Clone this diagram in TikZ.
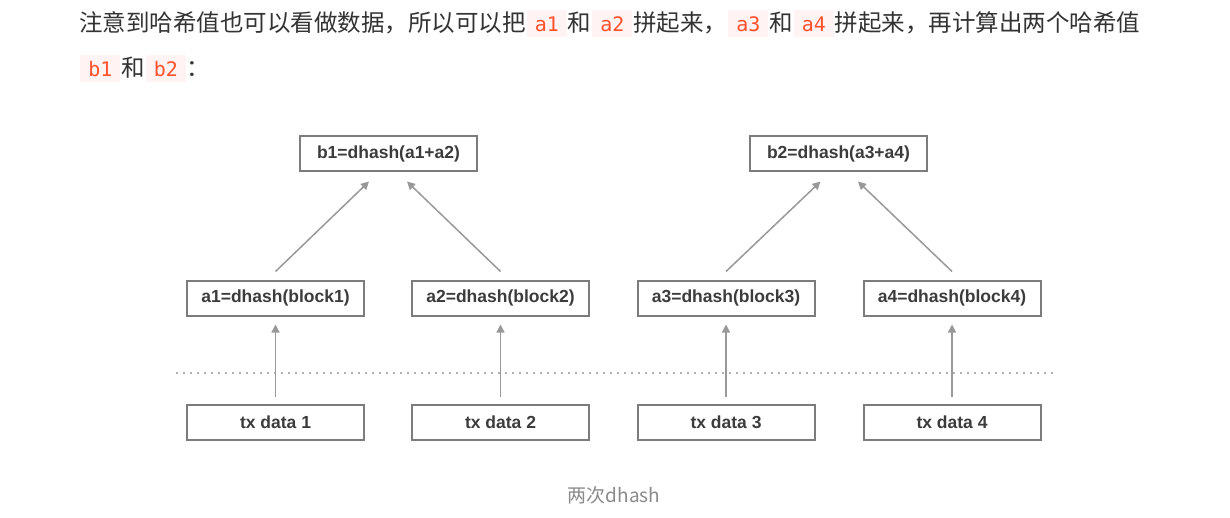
\documentclass[tikz,border=0pt]{standalone}
\usepackage{fontspec}
\usepackage{xcolor}
\usetikzlibrary{arrows.meta}
\newfontfamily\cjkfont{Noto Sans CJK SC}
\newfontfamily\monofont{DejaVu Sans Mono}
\newfontfamily\diagfont{Liberation Sans}
\definecolor{bodytext}{HTML}{333333}
\definecolor{codered}{HTML}{FF502C}
\definecolor{codebg}{HTML}{FFF3F3}
\definecolor{boxgray}{HTML}{7C7C7C}
\definecolor{arrowgray}{HTML}{999999}
\definecolor{dotgray}{HTML}{B0B0B0}
\definecolor{diagtext}{HTML}{3C3C3C}
\definecolor{capgray}{HTML}{8A8A8A}
\newcommand{\code}[1]{\hspace{0.5pt}{\setlength{\fboxsep}{0pt}\colorbox{codebg}{\makebox[20pt]{\rule[-2.5pt]{0pt}{13.5pt}\fontsize{10pt}{12pt}\monofont\color{codered}#1}}}\hspace{0.5pt}}
\tikzset{
  hashbox/.style  = {draw=boxgray,line width=1pt,minimum width=88.5pt,minimum height=17.5pt,
                     inner sep=0pt,font=\fontsize{8.75pt}{10pt}\diagfont\bfseries,text=diagtext},
  uparr/.style    = {-{Triangle[length=4pt,width=4pt]},arrowgray,line width=0.75pt},
  sepline/.style  = {dotgray,line width=1pt,dash pattern=on 1pt off 2.5pt},
  bodyline/.style = {anchor=base west,inner sep=0pt,text=bodytext,font=\fontsize{11.75pt}{14pt}\cjkfont}
}

\begin{document}
\begin{tikzpicture}[x=0.5pt,y=-0.5pt]
  \useasboundingbox[fill=white] (0,0) rectangle (1230,518);
  % text above the picture
  \node[bodyline] (line1) at (79,32) {注意到哈希值也可以看做数据，所以可以把\code{a1}和\code{a2}拼起来，\code{a3}和\code{a4}拼起来，再计算出两个哈希值};
  \node[bodyline] (line2) at (79,77) {\code{b1}和\code{b2}：};
  % hashes
  \node[hashbox] (b1) at (388.5,154) {b1=dhash(a1+a2)};
  \node[hashbox] (b2) at (838.5,154) {b2=dhash(a3+a4)};
  \node[hashbox] (a1) at (275.5,298) {a1=dhash(block1)};
  \node[hashbox] (a2) at (500.5,298) {a2=dhash(block2)};
  \node[hashbox] (a3) at (726,298)   {a3=dhash(block3)};
  \node[hashbox] (a4) at (952,298)   {a4=dhash(block4)};
  % data
  \node[hashbox] (tx1) at (275.5,422) {tx data 1};
  \node[hashbox] (tx2) at (500.5,422) {tx data 2};
  \node[hashbox] (tx3) at (726,422)   {tx data 3};
  \node[hashbox] (tx4) at (952,422)   {tx data 4};
  \coordinate (sepL) at (176,373);
  \coordinate (sepR) at (1056,373);
  \draw[sepline] (sepL) -- (sepR);
  \draw[uparr] ([yshift=3.5pt]tx1.north) -- ([yshift=-4pt]a1.south);
  \draw[uparr] ([yshift=3.5pt]tx2.north) -- ([yshift=-4pt]a2.south);
  \draw[uparr] ([yshift=3.5pt]tx3.north) -- ([yshift=-4pt]a3.south);
  \draw[uparr] ([yshift=3.5pt]tx4.north) -- ([yshift=-4pt]a4.south);
  \draw[uparr] ([yshift=4pt]a1.north) -- ([xshift=-9.75pt,yshift=-4.5pt]b1.south);
  \draw[uparr] ([yshift=4pt]a2.north) -- ([xshift=9.25pt,yshift=-4.5pt]b1.south);
  \draw[uparr] ([yshift=4pt]a3.north) -- ([xshift=-9pt,yshift=-4.5pt]b2.south);
  \draw[uparr] ([yshift=4pt]a4.north) -- ([xshift=9.75pt,yshift=-4.5pt]b2.south);
  \node[anchor=base,inner sep=0pt,text=capgray,font=\fontsize{9.5pt}{11pt}\cjkfont] (cap) at (614,502) {两次dhash};
\end{tikzpicture}
\end{document}
